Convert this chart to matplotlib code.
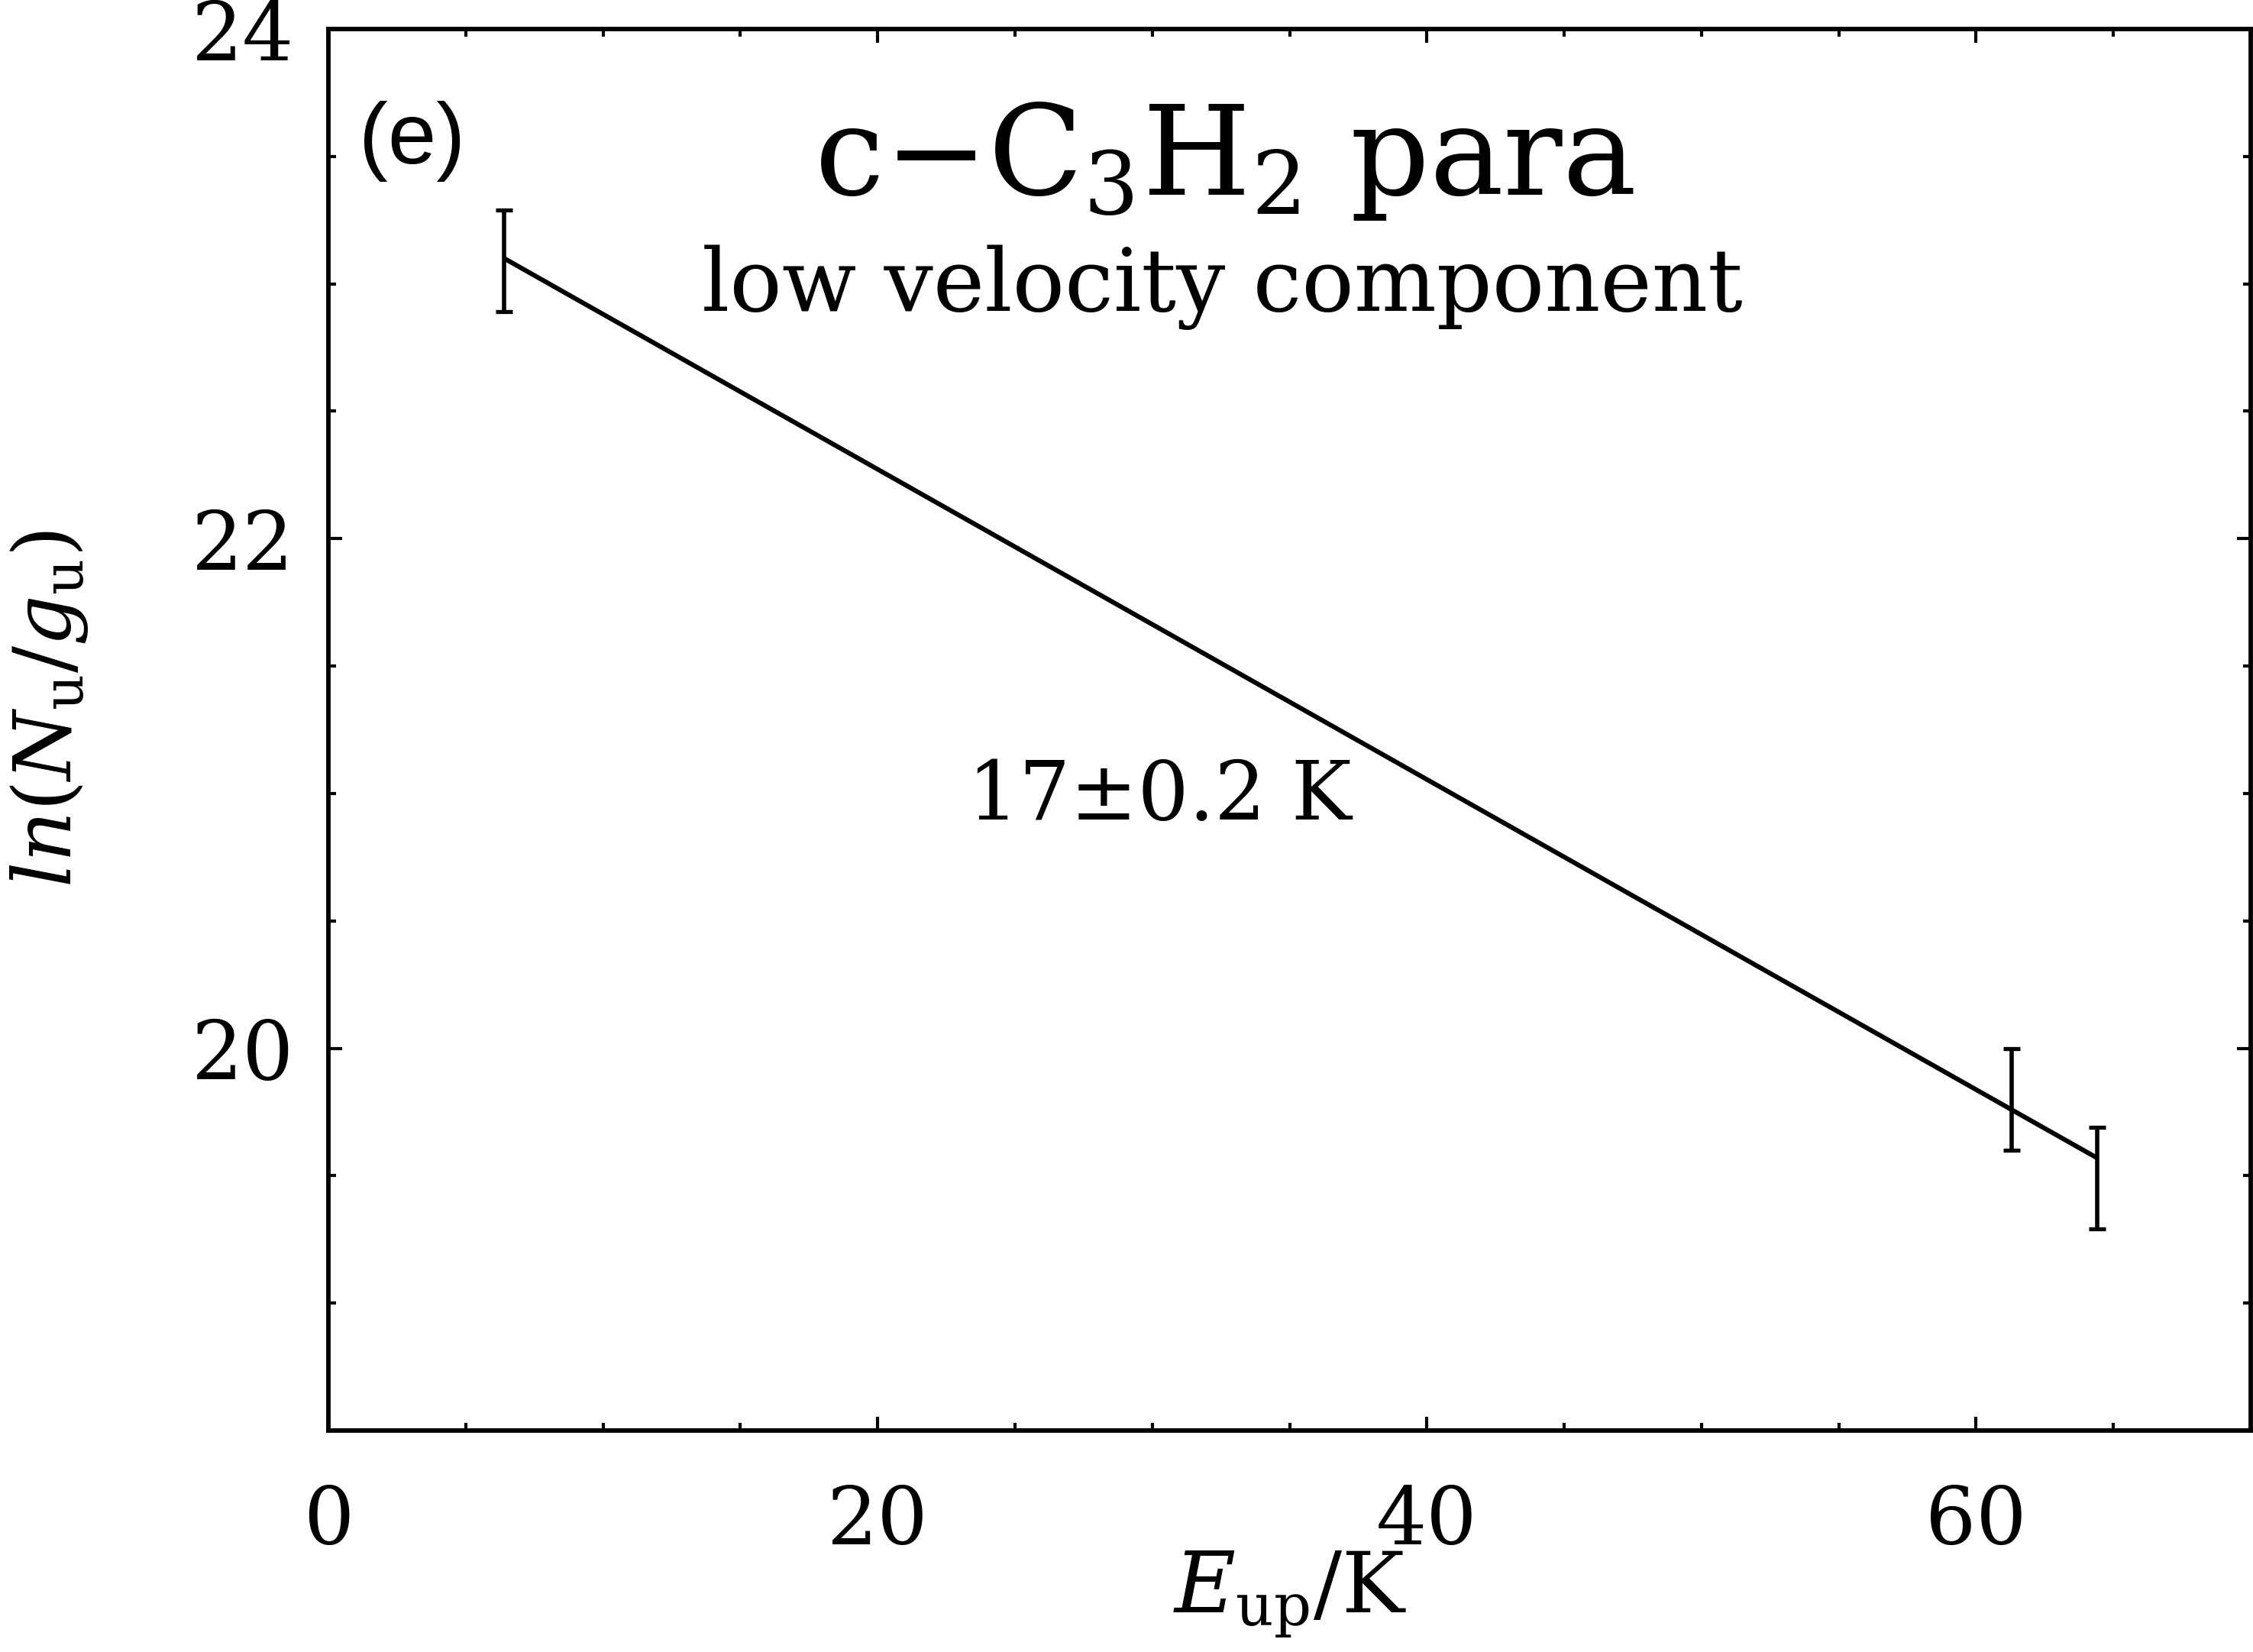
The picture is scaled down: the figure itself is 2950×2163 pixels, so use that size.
import matplotlib
matplotlib.use("Agg")
import matplotlib.pyplot as plt
from matplotlib.ticker import MultipleLocator

# rotational diagram, c-C3H2 para, low velocity component
E_up = [6.4, 61.3, 64.4]
ln_Ng = [23.09, 19.80, 19.49]
ln_err = [0.2, 0.2, 0.2]

# straight-line fit drawn over the points
fit_x = [6.4, 64.4]
fit_y = [23.10, 19.57]

x_ticks = [0, 20, 40, 60]
y_ticks = [20, 22, 24]

SERIF = "DejaVu Serif"
plt.rcParams["font.family"] = SERIF
plt.rcParams["mathtext.fontset"] = "dejavuserif"

fig = plt.figure(figsize=(29.5, 21.63), dpi=100)
ax = fig.add_axes([430 / 2950, 1 - 1873 / 2163, (2947 - 430) / 2950, (1873 - 38) / 2163])

ax.errorbar(E_up, ln_Ng, yerr=ln_err, fmt="none", ecolor="black",
            elinewidth=4.0, capsize=8, capthick=3.8)
ax.plot(fit_x, fit_y, color="black", lw=4.4, solid_capstyle="butt")

ax.set_xlim(0, 70)
ax.set_ylim(18.5, 24)
ax.set_xticks(x_ticks)
ax.set_yticks(y_ticks)
ax.xaxis.set_minor_locator(MultipleLocator(5))
ax.yaxis.set_minor_locator(MultipleLocator(0.5))

for s in ax.spines.values():
    s.set_linewidth(4.2)
ax.tick_params(which="both", direction="in", top=True, right=True, width=3)
ax.tick_params(which="major", length=13)
ax.tick_params(which="minor", length=7)
ax.tick_params(axis="x", which="major", pad=50, labelsize=75)
ax.tick_params(axis="y", which="major", pad=32, labelsize=76)

ax.set_xlabel(r"$E_{\rm up}/{\rm K}$", fontsize=79, va="top")
ax.xaxis.set_label_coords(0.5, -0.085)
ax.set_ylabel(r"$ln(N_{\rm u}/g_{\rm u})$", fontsize=75)
ax.yaxis.set_label_coords(-0.124, 0.515)

ax.text(0.0159, 0.92, "(e)", transform=ax.transAxes, fontsize=82,
        family="Liberation Sans", ha="left", va="center")
ax.text(0.466, 0.8817, r"c$-$C$_3$H$_2$ para", transform=ax.transAxes,
        fontsize=117, ha="center", va="baseline")
ax.text(0.465, 0.799, "low velocity component", transform=ax.transAxes,
        fontsize=82, ha="center", va="baseline")
ax.text(0.4325, 0.436, "17\u00b10.2 K", transform=ax.transAxes,
        fontsize=76, ha="center", va="baseline")

fig.savefig("out.png", dpi=100)
